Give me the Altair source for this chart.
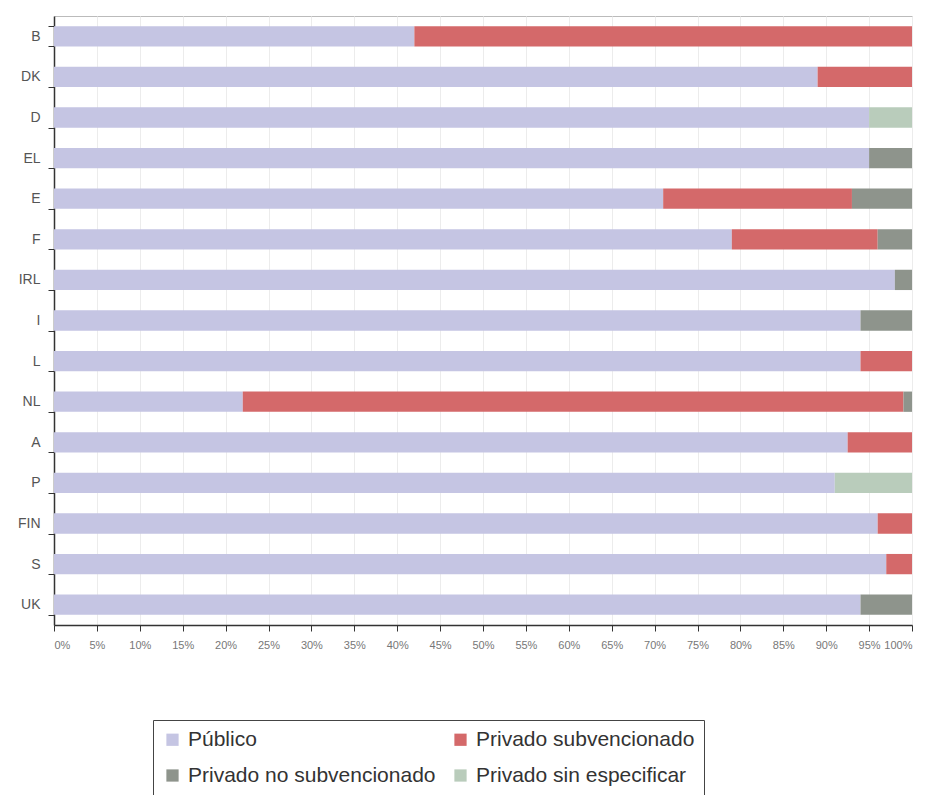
import altair as alt
import pandas as pd

paises = ["B", "DK", "D", "EL", "E", "F", "IRL", "I", "L", "NL", "A", "P", "FIN", "S", "UK"]
publico = [42, 89, 95, 95, 71, 79, 98, 94, 94, 22, 92.5, 91, 96, 97, 94]
subvencionado = [58, 11, 0, 0, 22, 17, 0, 0, 6, 77, 7.5, 0, 4, 3, 0]
no_subvencionado = [0, 0, 0, 5, 7, 4, 2, 6, 0, 1, 0, 0, 0, 0, 6]
sin_especificar = [0, 0, 5, 0, 0, 0, 0, 0, 0, 0, 0, 9, 0, 0, 0]

categorias = ["Público", "Privado subvencionado", "Privado no subvencionado", "Privado sin especificar"]
colores = ["#c5c5e3", "#d4696a", "#8e948c", "#b9ccbb"]
ticks = list(range(0, 101, 5))

rows = []
for i, p in enumerate(paises):
    for k, (cat, serie) in enumerate(zip(categorias, [publico, subvencionado, no_subvencionado, sin_especificar])):
        rows.append({"pais": p, "tipo": cat, "valor": serie[i], "orden": k})
df = pd.DataFrame(rows)

chart = alt.Chart(df).mark_bar().encode(
    y=alt.Y("pais:N", sort=paises, title=None,
            scale=alt.Scale(paddingInner=0.5, paddingOuter=0.25),
            axis=alt.Axis(tickBand="extent", labelFontSize=14, labelColor="#555555",
                          labelFont="Liberation Sans", domainColor="#333333", tickColor="#333333",
                          domainWidth=1.5, tickSize=6, labelPadding=8)),
    x=alt.X("valor:Q", stack="zero", title=None,
            scale=alt.Scale(domain=[0, 100], nice=False),
            axis=alt.Axis(values=ticks, labelExpr="datum.value + '%'", labelFontSize=11,
                          labelColor="#777777", labelFont="Liberation Sans",
                          domainColor="#333333", tickColor="#333333", domainWidth=1.5,
                          tickSize=6, labelPadding=8, grid=True, gridColor="#ececec")),
    color=alt.Color("tipo:N", sort=categorias,
                    scale=alt.Scale(domain=categorias, range=colores),
                    legend=alt.Legend(orient="none", legendX=99, legendY=704, columns=2,
                                      direction="horizontal",
                                      title=None, symbolType="square", symbolSize=150,
                                      symbolStrokeWidth=0, labelFontSize=21, labelOffset=5,
                                      labelFont="Liberation Sans", labelColor="#333333",
                                      strokeColor="#444444", padding=9, rowPadding=14,
                                      columnPadding=14, labelLimit=400, symbolOffset=0)),
    order=alt.Order("orden:Q"),
).properties(
    width=858, height=609,
    autosize=alt.AutoSizeParams(type="none"),
    padding={"left": 46, "top": 8, "right": 12, "bottom": 170},
).configure_view(stroke="#bbbbbb", strokeWidth=1)

chart.save("out.html", embed_options={"renderer": "svg", "actions": False})
